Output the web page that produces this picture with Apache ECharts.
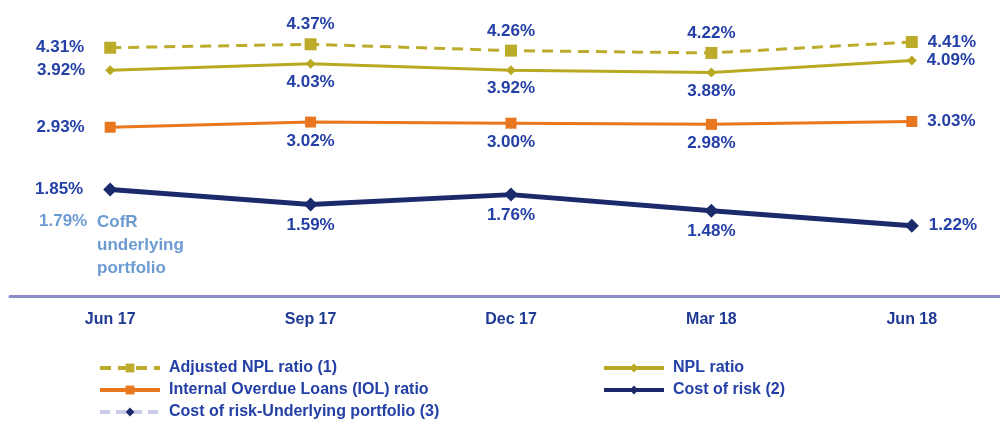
<!DOCTYPE html>
<html>
<head>
<meta charset="utf-8">
<script src="https://cdn.jsdelivr.net/npm/echarts@6/dist/echarts.min.js"></script>
<style>
  html, body { margin: 0; padding: 0; background: #fff; overflow: hidden; }
  #chart { width: 1012px; height: 426px; }
</style>
</head>
<body>
<div id="chart"></div>
<script>
const quarters = ["Jun 17", "Sep 17", "Dec 17", "Mar 18", "Jun 18"];
const adjustedNpl = [4.31, 4.37, 4.26, 4.22, 4.41];
const nplRatio = [3.92, 4.03, 3.92, 3.88, 4.09];
const iolRatio = [2.93, 3.02, 3.0, 2.98, 3.03];
const costOfRisk = [1.85, 1.59, 1.76, 1.48, 1.22];
const corUnderlying = [1.79, null, null, null, null];

const labelBlue = "#2440a6";
const font = "Liberation Sans, Arial, sans-serif";

// first point labelled left, last right, middle ones above or below
function withLabels(values, middle) {
  return values.map((v, i) => ({
    value: v,
    label: {
      position: i === 0 ? "left" : i === values.length - 1 ? "right" : middle,
      distance: i === 0 ? 20 : i === values.length - 1 ? 10 : 5,
    },
  }));
}

const pctLabel = {
  show: true,
  color: labelBlue,
  fontFamily: font,
  fontWeight: "bold",
  fontSize: 17,
  formatter: (p) => p.value.toFixed(2) + "%",
};

const legendText = { color: labelBlue, fontFamily: font, fontWeight: "bold", fontSize: 16, padding: [0, 0, 0, 4] };

const chart = echarts.init(document.getElementById("chart"));

chart.setOption({
  animation: false,
  grid: { left: 10, top: 8, right: 0, height: 288 },
  xAxis: {
    type: "category",
    data: quarters,
    axisLine: { lineStyle: { color: "#8a8cc8", width: 3 } },
    axisTick: { show: false },
    axisLabel: {
      color: "#1f3a93",
      fontFamily: font,
      fontWeight: "bold",
      fontSize: 16,
      margin: 16,
    },
  },
  yAxis: {
    type: "value",
    min: 0,
    max: 5,
    show: false,
    splitLine: { show: false },
  },
  legend: [
    {
      left: 93,
      top: 355,
      bottom: 0,
      orient: "vertical",
      itemWidth: 60,
      itemHeight: 11,
      itemGap: 6,
      lineStyle: { width: 4 },
      data: [
        "Adjusted NPL ratio (1)",
        "Internal Overdue Loans (IOL) ratio",
        "Cost of risk-Underlying portfolio (3)",
      ],
      textStyle: legendText,
    },
    {
      left: 597,
      top: 355,
      bottom: 0,
      orient: "vertical",
      itemWidth: 60,
      itemHeight: 11,
      itemGap: 6,
      lineStyle: { width: 4 },
      data: ["NPL ratio", "Cost of risk (2)"],
      textStyle: legendText,
    },
  ],
  graphic: [
    {
      type: "text",
      left: 97,
      top: 211,
      style: {
        text: "CofR\nunderlying\nportfolio",
        fill: "#6c9bd2",
        font: "bold 17px " + font,
        lineHeight: 23,
      },
    },
  ],
  series: [
    {
      name: "Adjusted NPL ratio (1)",
      type: "line",
      data: withLabels(adjustedNpl, "top"),
      symbol: "rect",
      symbolSize: 12,
      lineStyle: { color: "#bdac2c", width: 3, type: [11, 7] },
      itemStyle: { color: "#bdac2c" },
      label: pctLabel,
    },
    {
      name: "NPL ratio",
      type: "line",
      data: withLabels(nplRatio, "bottom"),
      symbol: "diamond",
      symbolSize: 10,
      lineStyle: { color: "#b9a822", width: 3 },
      itemStyle: { color: "#b9a822" },
      label: pctLabel,
    },
    {
      name: "Internal Overdue Loans (IOL) ratio",
      type: "line",
      data: withLabels(iolRatio, "bottom"),
      symbol: "rect",
      symbolSize: 11,
      lineStyle: { color: "#e8771f", width: 3 },
      itemStyle: { color: "#e8771f" },
      label: pctLabel,
    },
    {
      name: "Cost of risk-Underlying portfolio (3)",
      type: "line",
      data: corUnderlying,
      symbol: "diamond",
      symbolSize: 6,
      lineStyle: { color: "#c9cce6", width: 3, type: [10, 6] },
      itemStyle: { color: "#1b2a6b" },
      z: 1,
      label: {
        show: true,
        position: "left",
        distance: 20,
        offset: [0, 28],
        color: "#6c9bd2",
        fontFamily: font,
        fontWeight: "bold",
        fontSize: 17,
        formatter: (p) => p.value.toFixed(2) + "%",
      },
    },
    {
      name: "Cost of risk (2)",
      type: "line",
      data: withLabels(costOfRisk, "bottom"),
      symbol: "diamond",
      symbolSize: 14,
      lineStyle: { color: "#1b2a6b", width: 5 },
      itemStyle: { color: "#1b2a6b" },
      z: 3,
      label: pctLabel,
    },
  ],
});
</script>
</body>
</html>
